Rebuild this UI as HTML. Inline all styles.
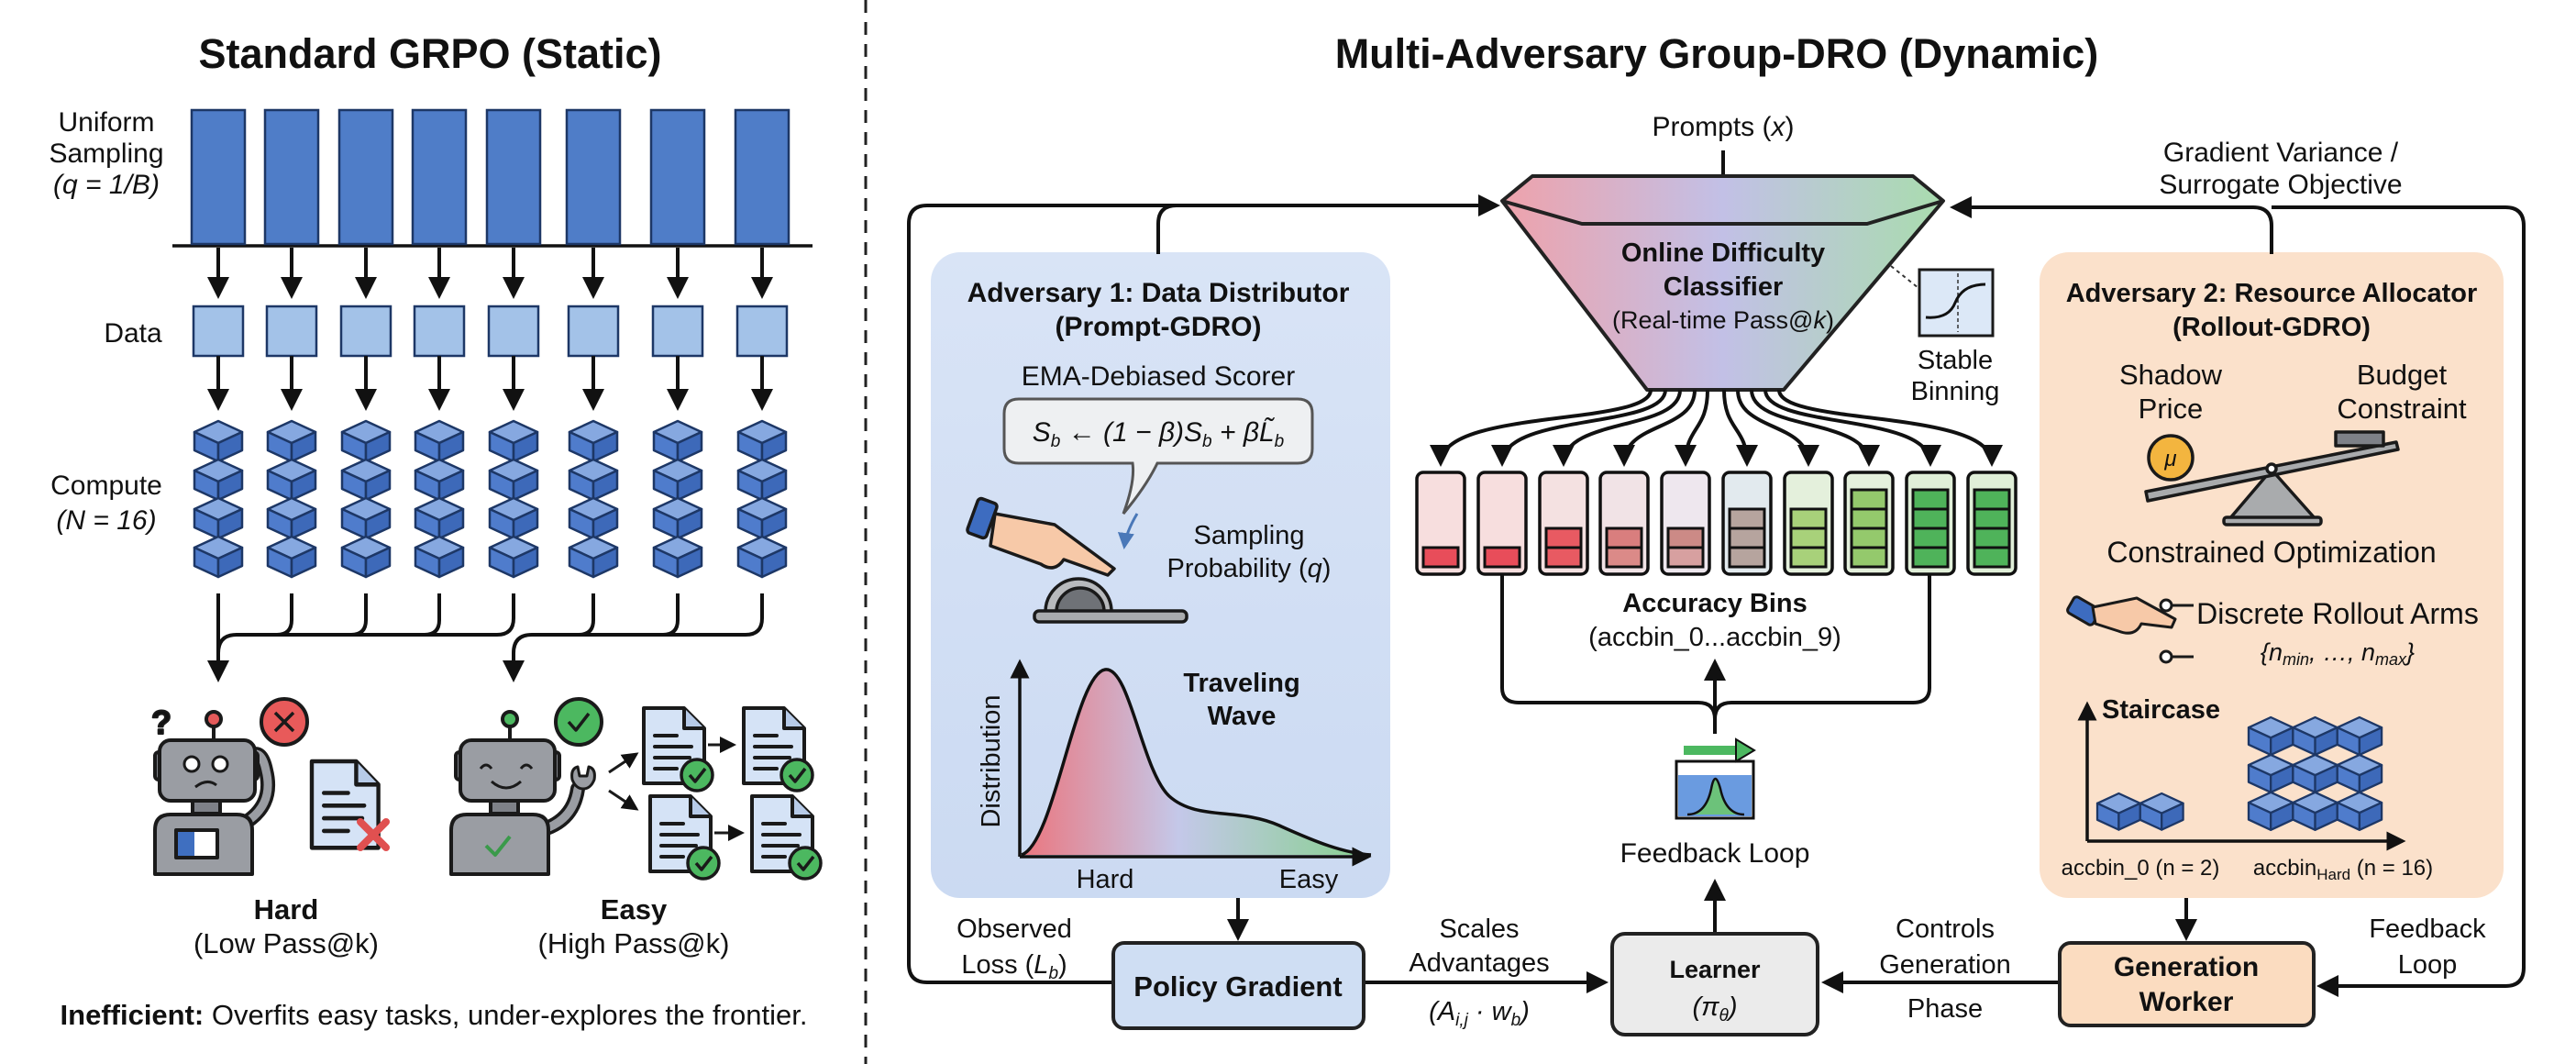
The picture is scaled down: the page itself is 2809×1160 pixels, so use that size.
<!DOCTYPE html>
<html><head><meta charset="utf-8"><style>
html,body{margin:0;padding:0;background:#fff;}
svg{display:block;}
text{font-family:"Liberation Sans",sans-serif;fill:#111;}
.b{font-weight:bold;}
</style></head><body>
<svg width="2809" height="1160" viewBox="0 0 2809 1160" xmlns="http://www.w3.org/2000/svg">
<defs>
<marker id="ah" markerWidth="6" markerHeight="6" refX="5" refY="3" orient="auto" markerUnits="strokeWidth">
<path d="M0,0 L6,3 L0,6 Z" fill="#111"/></marker>
<marker id="ahb" markerWidth="6" markerHeight="6" refX="5" refY="3" orient="auto" markerUnits="strokeWidth">
<path d="M0,0 L6,3 L0,6 Z" fill="#4a78b8"/></marker>
<g id="cube">
<polygon points="26,0 52,12 26,24 0,12" fill="#86a8e0" stroke="#1d3766" stroke-width="2.5" stroke-linejoin="round"/>
<polygon points="0,12 26,24 26,44 0,32" fill="#4f7ccc" stroke="#1d3766" stroke-width="2.5" stroke-linejoin="round"/>
<polygon points="52,12 26,24 26,44 52,32" fill="#3d69b9" stroke="#1d3766" stroke-width="2.5" stroke-linejoin="round"/>
</g>
<g id="doc">
<path d="M0,0 H44 L66,22 V82 H0 Z" fill="#d5e3f6" stroke="#1a1a1a" stroke-width="4" stroke-linejoin="round"/>
<path d="M44,0 V22 H66" fill="#b7cbe8" stroke="#1a1a1a" stroke-width="4" stroke-linejoin="round"/>
<path d="M12,30 H36 M12,42 H52 M12,54 H50 M12,66 H36" stroke="#1a1a1a" stroke-width="4" stroke-linecap="round"/>
</g>
<g id="chk">
<circle cx="0" cy="0" r="17" fill="#4cb860" stroke="#1a1a1a" stroke-width="3.5"/>
<path d="M-8,0 L-2,7 L9,-7" fill="none" stroke="#1a1a1a" stroke-width="3.5"/>
</g>
<linearGradient id="fun" x1="0" x2="1" y1="0" y2="0">
<stop offset="0" stop-color="#eea2ab"/><stop offset="0.5" stop-color="#c2c0e6"/><stop offset="1" stop-color="#a9dcae"/>
</linearGradient>
<linearGradient id="wave" x1="0" x2="1" y1="0" y2="0">
<stop offset="0" stop-color="#ee6b72"/><stop offset="0.45" stop-color="#c3c6e8"/><stop offset="1" stop-color="#7fcf83"/>
</linearGradient>
<linearGradient id="adv1" x1="0" x2="0" y1="0" y2="1">
<stop offset="0" stop-color="#d9e4f6"/><stop offset="1" stop-color="#cbdaf2"/>
</linearGradient>
</defs>

<!-- ============ LEFT ============ -->
<text x="469" y="74" font-size="45" class="b" text-anchor="middle">Standard GRPO (Static)</text>
<line x1="944" y1="0" x2="944" y2="1160" stroke="#222" stroke-width="3" stroke-dasharray="14,10"/>

<g font-size="30" text-anchor="middle">
<text x="116" y="143">Uniform</text>
<text x="116" y="177">Sampling</text>
<text x="116" y="211" font-style="italic">(q = 1/B)</text>
<text x="145" y="373">Data</text>
<text x="116" y="539">Compute</text>
<text x="116" y="577" font-style="italic">(N = 16)</text>
</g>

<line x1="188" y1="268" x2="886" y2="268" stroke="#111" stroke-width="3.5"/>
<g fill="#4f7dc8" stroke="#1d3766" stroke-width="2.5">
<rect x="209" y="120" width="58" height="146"/><rect x="289" y="120" width="58" height="146"/>
<rect x="370" y="120" width="58" height="146"/><rect x="450" y="120" width="58" height="146"/>
<rect x="531" y="120" width="58" height="146"/><rect x="618" y="120" width="58" height="146"/>
<rect x="710" y="120" width="58" height="146"/><rect x="802" y="120" width="58" height="146"/>
</g>
<g fill="#a3c2e8" stroke="#1d3766" stroke-width="2.5">
<rect x="211" y="334" width="54" height="54"/><rect x="291" y="334" width="54" height="54"/>
<rect x="372" y="334" width="54" height="54"/><rect x="452" y="334" width="54" height="54"/>
<rect x="533" y="334" width="54" height="54"/><rect x="620" y="334" width="54" height="54"/>
<rect x="712" y="334" width="54" height="54"/><rect x="804" y="334" width="54" height="54"/>
</g>
<g stroke="#111" stroke-width="4" fill="none" marker-end="url(#ah)">
<path d="M238,270 V322"/><path d="M318,270 V322"/><path d="M399,270 V322"/><path d="M479,270 V322"/>
<path d="M560,270 V322"/><path d="M647,270 V322"/><path d="M739,270 V322"/><path d="M831,270 V322"/>
<path d="M238,388 V444"/><path d="M318,388 V444"/><path d="M399,388 V444"/><path d="M479,388 V444"/>
<path d="M560,388 V444"/><path d="M647,388 V444"/><path d="M739,388 V444"/><path d="M831,388 V444"/>
</g>
<g>
<use href="#cube" x="212" y="459"/><use href="#cube" x="212" y="501"/><use href="#cube" x="212" y="543"/><use href="#cube" x="212" y="585"/>
<use href="#cube" x="292" y="459"/><use href="#cube" x="292" y="501"/><use href="#cube" x="292" y="543"/><use href="#cube" x="292" y="585"/>
<use href="#cube" x="373" y="459"/><use href="#cube" x="373" y="501"/><use href="#cube" x="373" y="543"/><use href="#cube" x="373" y="585"/>
<use href="#cube" x="453" y="459"/><use href="#cube" x="453" y="501"/><use href="#cube" x="453" y="543"/><use href="#cube" x="453" y="585"/>
<use href="#cube" x="534" y="459"/><use href="#cube" x="534" y="501"/><use href="#cube" x="534" y="543"/><use href="#cube" x="534" y="585"/>
<use href="#cube" x="621" y="459"/><use href="#cube" x="621" y="501"/><use href="#cube" x="621" y="543"/><use href="#cube" x="621" y="585"/>
<use href="#cube" x="713" y="459"/><use href="#cube" x="713" y="501"/><use href="#cube" x="713" y="543"/><use href="#cube" x="713" y="585"/>
<use href="#cube" x="805" y="459"/><use href="#cube" x="805" y="501"/><use href="#cube" x="805" y="543"/><use href="#cube" x="805" y="585"/>
</g>
<g stroke="#111" stroke-width="4" fill="none">
<path d="M238,647 V740" marker-end="url(#ah)"/>
<path d="M238,712 Q238,692 258,692 H542 Q560,692 560,674 V647"/>
<path d="M318,647 V676 Q318,692 302,692"/>
<path d="M399,647 V676 Q399,692 383,692"/>
<path d="M479,647 V676 Q479,692 463,692"/>
<path d="M560,740 V712 Q560,692 580,692 H813 Q831,692 831,674 V647" />
<path d="M560,712 V740" marker-end="url(#ah)"/>
<path d="M647,647 V676 Q647,692 631,692"/>
<path d="M739,647 V676 Q739,692 723,692"/>
</g>

<!-- hard robot -->
<g stroke="#1a1a1a" stroke-width="4" stroke-linejoin="round">
<text x="176" y="800" font-size="36" font-weight="bold" text-anchor="middle" fill="#fff" stroke="#1a1a1a" stroke-width="2">?</text>
<line x1="233" y1="790" x2="233" y2="808"/>
<circle cx="233" cy="784" r="8" fill="#e55a5a"/>
<path d="M262,900 Q300,880 290,840 Q285,815 272,825" fill="none" stroke="#1a1a1a" stroke-width="16" stroke-linecap="round"/>
<path d="M262,900 Q300,880 290,840 Q285,815 272,825" fill="none" stroke="#9a9da3" stroke-width="9" stroke-linecap="round"/>
<rect x="169" y="820" width="10" height="30" rx="4" fill="#7e8188"/>
<rect x="271" y="820" width="10" height="30" rx="4" fill="#7e8188"/>
<rect x="174" y="807" width="104" height="66" rx="12" fill="#9a9da3"/>
<rect x="210" y="873" width="30" height="14" fill="#7e8188"/>
<path d="M169,953 V905 Q169,888 186,888 H258 Q275,888 275,905 V953 Z" fill="#9a9da3"/>
<rect x="192" y="905" width="45" height="30" fill="#fff"/>
<rect x="194" y="907" width="18" height="26" fill="#3f6fc0" stroke="none"/>
<circle cx="209" cy="833" r="8" fill="#fff" stroke-width="3"/><circle cx="240" cy="833" r="8" fill="#fff" stroke-width="3"/>
<path d="M213,858 Q226,848 236,856" fill="none" stroke-width="3"/>
<circle cx="310" cy="787" r="25" fill="#e85a5a"/>
<path d="M300,777 L320,797 M320,777 L300,797" stroke-width="3.5"/>
<g transform="translate(340,830) scale(1.1,1.15)"><path d="M0,0 H44 L66,22 V82 H0 Z" fill="#d5e3f6" stroke="#1a1a1a" stroke-width="4"/><path d="M44,0 V22 H66" fill="#b7cbe8" stroke="#1a1a1a" stroke-width="4"/><path d="M12,30 H36 M12,42 H52 M12,54 H50 M12,66 H36" stroke="#1a1a1a" stroke-width="4" stroke-linecap="round"/></g>
<path d="M393,896 L421,924 M421,896 L393,924" stroke="#e05050" stroke-width="8" stroke-linecap="round"/>
</g>

<!-- easy robot -->
<g stroke="#1a1a1a" stroke-width="4" stroke-linejoin="round">
<line x1="556" y1="790" x2="556" y2="808"/>
<circle cx="556" cy="784" r="8" fill="#4cb860"/>
<path d="M590,905 Q625,895 630,860" fill="none" stroke="#1a1a1a" stroke-width="16" stroke-linecap="round"/>
<path d="M590,905 Q625,895 630,860" fill="none" stroke="#9a9da3" stroke-width="9" stroke-linecap="round"/>
<path d="M624,850 Q622,838 630,836 L632,846 L640,846 L642,836 Q650,838 648,850 Q644,860 636,860 Q628,860 624,850 Z" fill="#9a9da3" stroke-width="3"/>
<rect x="497" y="820" width="10" height="30" rx="4" fill="#7e8188"/>
<rect x="600" y="820" width="10" height="30" rx="4" fill="#7e8188"/>
<rect x="502" y="807" width="103" height="66" rx="12" fill="#9a9da3"/>
<rect x="535" y="873" width="30" height="14" fill="#7e8188"/>
<path d="M492,953 V905 Q492,888 509,888 H581 Q598,888 598,905 V953 Z" fill="#9a9da3"/>
<path d="M530,922 L540,932 L556,912" fill="none" stroke="#3a9a4a" stroke-width="4"/>
<path d="M524,838 Q530,830 536,838 M568,838 Q574,830 580,838" fill="none" stroke-width="3"/>
<path d="M536,852 Q552,866 568,852" fill="none" stroke-width="3"/>
<circle cx="631" cy="787" r="25" fill="#4cb860"/>
<path d="M620,787 L628,796 L642,778" fill="none" stroke-width="3.5"/>
<path d="M664,842 L694,822" stroke-width="3" marker-end="url(#ah)"/>
<path d="M664,862 L694,882" stroke-width="3" marker-end="url(#ah)"/>
<use href="#doc" x="702" y="772"/><use href="#doc" x="811" y="772"/>
<use href="#doc" x="709" y="868"/><use href="#doc" x="820" y="868"/>
<use href="#chk" x="760" y="845"/><use href="#chk" x="869" y="845"/>
<use href="#chk" x="767" y="941"/><use href="#chk" x="878" y="941"/>
<path d="M772,812 H800" stroke-width="3" marker-end="url(#ah)"/>
<path d="M779,908 H809" stroke-width="3" marker-end="url(#ah)"/>
</g>

<g font-size="31" text-anchor="middle">
<text x="312" y="1002" class="b">Hard</text>
<text x="312" y="1039">(Low Pass@k)</text>
<text x="691" y="1002" class="b">Easy</text>
<text x="691" y="1039">(High Pass@k)</text>
</g>
<text x="473" y="1117" font-size="31" text-anchor="middle"><tspan class="b">Inefficient:</tspan> Overfits easy tasks, under-explores the frontier.</text>

<!-- ============ RIGHT ============ -->
<text x="1872" y="74" font-size="45" class="b" text-anchor="middle">Multi-Adversary Group-DRO (Dynamic)</text>

<rect x="1015" y="275" width="501" height="704" rx="32" fill="url(#adv1)"/>
<rect x="2224" y="275" width="506" height="704" rx="32" fill="#fbe1cb"/>

<g stroke="#111" stroke-width="4" fill="none">
<path d="M1214,1071 H1011 Q991,1071 991,1051 V244 Q991,224 1011,224 H1632" marker-end="url(#ah)"/>
<path d="M1263,277 V244 Q1263,224 1283,224"/>
<path d="M2477,277 V246 Q2477,226 2457,226 H2130" marker-end="url(#ah)"/>
<path d="M2477,226 H2732 Q2752,226 2752,246 V1055 Q2752,1075 2732,1075 H2530" marker-end="url(#ah)"/>
<path d="M1879,164 V230" marker-end="url(#ah)"/>
<path d="M1350,979 V1022" marker-end="url(#ah)"/>
<path d="M2384,979 V1022" marker-end="url(#ah)"/>
<path d="M1487,1071 H1750" marker-end="url(#ah)"/>
<path d="M2246,1071 H1990" marker-end="url(#ah)"/>
<path d="M1870,1018 V962" marker-end="url(#ah)"/>
</g>

<g font-size="30" text-anchor="middle">
<text x="1879" y="148">Prompts (<tspan font-style="italic">x</tspan>)</text>
<text x="2487" y="176">Gradient Variance /</text>
<text x="2487" y="211">Surrogate Objective</text>
</g>

<polygon points="1638,219 1671,192 2086,192 2119,219 1945,425 1796,425" fill="url(#fun)" stroke="#222" stroke-width="4" stroke-linejoin="round"/>
<polyline points="1638,219 1725,244 2036,244 2119,219" fill="none" stroke="#222" stroke-width="4" stroke-linejoin="round"/>
<g text-anchor="middle">
<text x="1879" y="285" font-size="29" class="b">Online Difficulty</text>
<text x="1879" y="322" font-size="29" class="b">Classifier</text>
<text x="1879" y="358" font-size="27">(Real-time Pass@<tspan font-style="italic">k</tspan>)</text>
</g>
<path d="M2062,290 L2092,314" stroke="#333" stroke-width="2" stroke-dasharray="4,4"/>
<rect x="2093" y="294" width="80" height="72" fill="#dce8f7" stroke="#1a1a1a" stroke-width="3"/>
<line x1="2135" y1="298" x2="2135" y2="362" stroke="#333" stroke-width="1.5" stroke-dasharray="4,3"/>
<path d="M2100,346 Q2125,348 2132,330 Q2140,310 2165,310" fill="none" stroke="#111" stroke-width="3"/>
<text x="2132" y="402" font-size="29" text-anchor="middle">Stable</text>
<text x="2132" y="436" font-size="29" text-anchor="middle">Binning</text>

<g stroke="#111" stroke-width="4" fill="none" marker-end="url(#ah)">
<path d="M1800,425 C1800,465 1571,445 1571,505"/>
<path d="M1816,425 C1816,468 1638,450 1638,505"/>
<path d="M1832,425 C1832,470 1705,455 1705,505"/>
<path d="M1848,425 C1848,470 1771,460 1771,505"/>
<path d="M1862,425 C1862,470 1838,465 1838,505"/>
<path d="M1880,425 C1880,470 1905,465 1905,505"/>
<path d="M1895,425 C1895,470 1972,460 1972,505"/>
<path d="M1910,425 C1910,470 2038,455 2038,505"/>
<path d="M1925,425 C1925,468 2105,450 2105,505"/>
<path d="M1940,425 C1940,465 2172,445 2172,505"/>
</g>

<g stroke="#111" stroke-width="3.5">
<rect x="1545" y="515" width="52" height="111" rx="7" fill="#f7dede"/>
<rect x="1612" y="515" width="52" height="111" rx="7" fill="#f7dede"/>
<rect x="1679" y="515" width="52" height="111" rx="7" fill="#f4e1e1"/>
<rect x="1745" y="515" width="52" height="111" rx="7" fill="#f1e3e6"/>
<rect x="1812" y="515" width="52" height="111" rx="7" fill="#eee7ee"/>
<rect x="1879" y="515" width="52" height="111" rx="7" fill="#e2eaee"/>
<rect x="1946" y="515" width="52" height="111" rx="7" fill="#e4f0dc"/>
<rect x="2012" y="515" width="52" height="111" rx="7" fill="#e4f0dc"/>
<rect x="2079" y="515" width="52" height="111" rx="7" fill="#e0efd8"/>
<rect x="2146" y="515" width="52" height="111" rx="7" fill="#e0efd8"/>
</g>
<g stroke="#111" stroke-width="3">
<rect x="1552" y="597" width="38" height="21" fill="#e84d5a"/>
<rect x="1619" y="597" width="38" height="21" fill="#e84d5a"/>
<rect x="1686" y="597" width="38" height="21" fill="#e85a62"/><rect x="1686" y="576" width="38" height="21" fill="#e85a62"/>
<rect x="1752" y="597" width="38" height="21" fill="#db8a88"/><rect x="1752" y="576" width="38" height="21" fill="#d97e7e"/>
<rect x="1819" y="597" width="38" height="21" fill="#d7a0a0"/><rect x="1819" y="576" width="38" height="21" fill="#cc8a86"/>
<rect x="1886" y="597" width="38" height="21" fill="#b6a49e"/><rect x="1886" y="576" width="38" height="21" fill="#b6a49e"/><rect x="1886" y="555" width="38" height="21" fill="#b6a49e"/>
<rect x="1953" y="597" width="38" height="21" fill="#a8d17a"/><rect x="1953" y="576" width="38" height="21" fill="#a8d17a"/><rect x="1953" y="555" width="38" height="21" fill="#a8d17a"/>
<rect x="2019" y="597" width="38" height="21" fill="#94c96c"/><rect x="2019" y="576" width="38" height="21" fill="#94c96c"/><rect x="2019" y="555" width="38" height="21" fill="#94c96c"/><rect x="2019" y="534" width="38" height="21" fill="#94c96c"/>
<rect x="2086" y="597" width="38" height="21" fill="#4fb35a"/><rect x="2086" y="576" width="38" height="21" fill="#4fb35a"/><rect x="2086" y="555" width="38" height="21" fill="#4fb35a"/><rect x="2086" y="534" width="38" height="21" fill="#4fb35a"/>
<rect x="2153" y="597" width="38" height="21" fill="#4fb35a"/><rect x="2153" y="576" width="38" height="21" fill="#4fb35a"/><rect x="2153" y="555" width="38" height="21" fill="#4fb35a"/><rect x="2153" y="534" width="38" height="21" fill="#4fb35a"/>
</g>
<text x="1870" y="667" font-size="29" class="b" text-anchor="middle">Accuracy Bins</text>
<text x="1870" y="704" font-size="29" text-anchor="middle">(accbin_0...accbin_9)</text>
<g stroke="#111" stroke-width="4" fill="none">
<path d="M1638,626 V750 Q1638,766 1656,766 H1852 Q1870,766 1870,784"/>
<path d="M2104,626 V750 Q2104,766 2086,766 H1888 Q1870,766 1870,784"/>
<path d="M1870,800 V722" marker-end="url(#ah)"/>
</g>
<rect x="1828" y="830" width="84" height="62" fill="#fff" stroke="#111" stroke-width="3"/>
<path d="M1830,845 H1910 V890 H1830 Z" fill="#6a9be0"/>
<path d="M1840,888 Q1860,888 1866,860 Q1870,838 1876,860 Q1882,888 1902,888" fill="#6cc27a" stroke="#111" stroke-width="2.5"/>
<path d="M1836,818 H1895" stroke="#4cb860" stroke-width="10"/>
<path d="M1893,806 L1913,818 L1893,830 Z" fill="#4cb860" stroke="#111" stroke-width="2"/>
<text x="1870" y="940" font-size="30" text-anchor="middle">Feedback Loop</text>

<!-- adversary 1 contents -->
<g text-anchor="middle">
<text x="1263" y="329" font-size="30" class="b">Adversary 1: Data Distributor</text>
<text x="1263" y="366" font-size="30" class="b">(Prompt-GDRO)</text>
<text x="1263" y="420" font-size="30">EMA-Debiased Scorer</text>
</g>
<path d="M1111,435 H1415 Q1431,435 1431,451 V489 Q1431,505 1415,505 H1262 Q1250,530 1225,560 Q1238,525 1235,505 H1111 Q1095,505 1095,489 V451 Q1095,435 1111,435 Z" fill="#eef0f2" stroke="#555" stroke-width="3"/>
<text x="1263" y="481" font-size="30" text-anchor="middle" font-family="Liberation Serif, serif" font-style="italic">S<tspan font-size="19" dy="6">b</tspan><tspan dy="-6"> ← (1 − β)S</tspan><tspan font-size="19" dy="6">b</tspan><tspan dy="-6"> + βL̃</tspan><tspan font-size="19" dy="6">b</tspan></text>
<path d="M1240,560 Q1228,580 1226,596" stroke="#4a78b8" stroke-width="3" fill="none" marker-end="url(#ahb)"/>
<g stroke="#1a1a1a" stroke-width="3.5" stroke-linejoin="round">
<path d="M1140,667 A36,36 0 0 1 1212,667 Z" fill="#b8babd"/>
<path d="M1152,667 A26,26 0 0 1 1204,667 Z" fill="#6f7277"/>
<rect x="1128" y="666" width="166" height="12" rx="5" fill="#a9abad"/>
<rect x="1060" y="545" width="22" height="40" rx="4" fill="#3d6cc0" transform="rotate(20 1071 565)"/>
<path d="M1085,560 L1150,572 L1215,620 L1208,627 L1160,610 Q1150,625 1135,615 L1080,595 Z" fill="#f7c9a8"/>
</g>
<text x="1362" y="593" font-size="29" text-anchor="middle">Sampling</text>
<text x="1362" y="629" font-size="29" text-anchor="middle">Probability (<tspan font-style="italic">q</tspan>)</text>
<path d="M1114,932 C1150,920 1172,735 1205,730 C1232,726 1245,840 1275,868 C1305,895 1350,880 1395,900 C1435,918 1465,930 1495,932 Z" fill="url(#wave)" opacity="0.9"/>
<path d="M1114,932 C1150,920 1172,735 1205,730 C1232,726 1245,840 1275,868 C1305,895 1350,880 1395,900 C1435,918 1465,930 1495,932" fill="none" stroke="#111" stroke-width="3.5"/>
<g stroke="#111" stroke-width="3.5" fill="none">
<path d="M1112,934 V722" marker-end="url(#ah)"/>
<path d="M1112,934 H1492" marker-end="url(#ah)"/>
</g>
<text x="1090" y="830" font-size="29" text-anchor="middle" transform="rotate(-90 1090 830)">Distribution</text>
<text x="1205" y="968" font-size="29" text-anchor="middle">Hard</text>
<text x="1427" y="968" font-size="29" text-anchor="middle">Easy</text>
<text x="1354" y="754" font-size="29" class="b" text-anchor="middle">Traveling</text>
<text x="1354" y="790" font-size="29" class="b" text-anchor="middle">Wave</text>

<!-- bottom boxes -->
<rect x="1214" y="1028" width="273" height="93" rx="12" fill="#cfdef3" stroke="#222" stroke-width="4"/>
<text x="1350" y="1086" font-size="31" class="b" text-anchor="middle">Policy Gradient</text>
<rect x="1758" y="1018" width="224" height="110" rx="14" fill="#ebebeb" stroke="#222" stroke-width="4"/>
<text x="1870" y="1066" font-size="27" class="b" text-anchor="middle">Learner</text>
<text x="1870" y="1107" font-size="29" text-anchor="middle" font-family="Liberation Serif, serif" font-style="italic">(π<tspan font-size="19" dy="6">θ</tspan><tspan dy="-6">)</tspan></text>
<rect x="2246" y="1028" width="277" height="90" rx="12" fill="#fbdcc0" stroke="#222" stroke-width="4"/>
<text x="2384" y="1064" font-size="30" class="b" text-anchor="middle">Generation</text>
<text x="2384" y="1102" font-size="30" class="b" text-anchor="middle">Worker</text>

<g font-size="29" text-anchor="middle">
<text x="1106" y="1022">Observed</text>
<text x="1106" y="1061">Loss (<tspan font-style="italic">L</tspan><tspan font-size="19" dy="6" font-style="italic">b</tspan><tspan dy="-6">)</tspan></text>
<text x="1613" y="1022">Scales</text>
<text x="1613" y="1059">Advantages</text>
<text x="1613" y="1112" font-style="italic">(A<tspan font-size="19" dy="6">i,j</tspan><tspan dy="-6"> · w</tspan><tspan font-size="19" dy="6">b</tspan><tspan dy="-6">)</tspan></text>
<text x="2121" y="1022">Controls</text>
<text x="2121" y="1061">Generation</text>
<text x="2121" y="1109">Phase</text>
<text x="2647" y="1022">Feedback</text>
<text x="2647" y="1061">Loop</text>
</g>

<!-- adversary 2 contents -->
<g text-anchor="middle">
<text x="2477" y="329" font-size="29" class="b">Adversary 2: Resource Allocator</text>
<text x="2477" y="366" font-size="29" class="b">(Rollout-GDRO)</text>
<text x="2367" y="419" font-size="31">Shadow</text>
<text x="2367" y="456" font-size="31">Price</text>
<text x="2619" y="419" font-size="31">Budget</text>
<text x="2619" y="456" font-size="31">Constraint</text>
<text x="2477" y="613" font-size="32">Constrained Optimization</text>
<text x="2549" y="680" font-size="32">Discrete Rollout Arms</text>
<text x="2549" y="720" font-size="27" font-family="Liberation Serif, serif" font-style="italic">{n<tspan font-size="18" dy="5">min</tspan><tspan dy="-5">, …, n</tspan><tspan font-size="18" dy="5">max</tspan><tspan dy="-5">}</tspan></text>
</g>
<g stroke="#1a1a1a" stroke-width="3.5" stroke-linejoin="round">
<polygon points="2477,512 2431,566 2525,566" fill="#a9abad"/>
<rect x="2425" y="564" width="106" height="8" rx="3" fill="#a9abad"/>
<path d="M2340,536 L2613,482 L2615,490 L2342,546 Z" fill="#a9abad"/>
<rect x="2547" y="471" width="52" height="15" fill="#7e8188"/>
<circle cx="2477" cy="511" r="5" fill="#fff"/>
<circle cx="2367" cy="499" r="24" fill="#f3b53f"/>
</g>
<text x="2367" y="508" font-size="24" text-anchor="middle" font-family="Liberation Serif, serif" font-style="italic">μ</text>
<g stroke="#1a1a1a" stroke-width="3" stroke-linejoin="round">
<rect x="2262" y="650" width="20" height="32" rx="4" fill="#3d6cc0" transform="rotate(-60 2272 666)"/>
<path d="M2282,662 L2330,652 L2372,675 L2368,684 L2335,680 Q2328,695 2310,688 L2285,680 Z" fill="#f7c9a8"/>
<circle cx="2362" cy="660" r="6" fill="#fff"/><circle cx="2362" cy="716" r="6" fill="#fff"/>
<path d="M2368,660 H2392 M2368,716 H2392" fill="none"/>
</g>
<g stroke="#111" stroke-width="3.5" fill="none">
<path d="M2276,917 V768" marker-end="url(#ah)"/>
<path d="M2276,917 H2620" marker-end="url(#ah)"/>
</g>
<text x="2292" y="783" font-size="29" class="b">Staircase</text>
<g transform="translate(2287,865) scale(0.9)"><use href="#cube" x="0" y="0"/><use href="#cube" x="52" y="0"/></g>
<g transform="translate(2452,782) scale(0.93)">
<use href="#cube" x="0" y="0"/><use href="#cube" x="52" y="0"/><use href="#cube" x="104" y="0"/>
<use href="#cube" x="0" y="44"/><use href="#cube" x="52" y="44"/><use href="#cube" x="104" y="44"/>
<use href="#cube" x="0" y="88"/><use href="#cube" x="52" y="88"/><use href="#cube" x="104" y="88"/>
</g>
<g font-size="24" text-anchor="middle">
<text x="2334" y="954">accbin_0 (n = 2)</text>
<text x="2555" y="954">accbin<tspan font-size="17" dy="5">Hard</tspan><tspan dy="-5"> (n = 16)</tspan></text>
</g>
</svg>
</body></html>
